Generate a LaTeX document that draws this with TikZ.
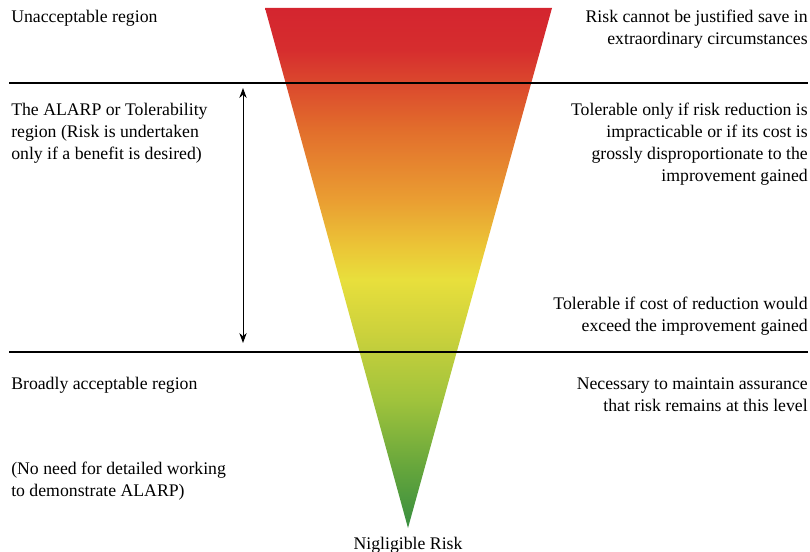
\documentclass[tikz,border=0pt]{standalone}
\usepackage{fontspec}
\setmainfont{Liberation Serif}
\usetikzlibrary{arrows.meta}

% colours of the risk band, from negligible (bottom) to unacceptable (top)
\definecolor{rgreen}{RGB}{56,142,64}
\definecolor{rgreenB}{RGB}{100,165,60}
\definecolor{rgreenC}{RGB}{160,195,60}
\definecolor{rlime}{RGB}{205,210,60}
\definecolor{ryellow}{RGB}{232,223,60}
\definecolor{ryelor}{RGB}{235,200,55}
\definecolor{rorange}{RGB}{234,158,50}
\definecolor{rdarkor}{RGB}{226,110,44}
\definecolor{rred}{RGB}{214,45,46}
\definecolor{rtop}{RGB}{212,37,47}

\pgfdeclareverticalshading{riskband}{100bp}{%
  color(0bp)=(rgreen); color(25bp)=(rgreen);
  color(30.6bp)=(rgreenB); color(37.3bp)=(rgreenC);
  color(44bp)=(rlime); color(48.9bp)=(ryellow);
  color(51.7bp)=(ryelor); color(56.5bp)=(rorange);
  color(63.3bp)=(rdarkor); color(71bp)=(rred);
  color(75bp)=(rtop); color(100bp)=(rtop)}

% multi-line labels are placed by the baseline of their last line
\tikzset{
  txt/.style={inner sep=0pt, font=\fontsize{13.3}{16.5}\selectfont},
  lefttxt/.style={txt, align=left, anchor=base west},
  righttxt/.style={txt, align=right, anchor=base east},
  divider/.style={line width=0.9pt, black},
  span/.style={line width=0.75pt, {Stealth[length=7.5pt,width=5.5pt]}-{Stealth[length=7.5pt,width=5.5pt]}}
}

\begin{document}
\begin{tikzpicture}[x=0.75pt,y=-0.75pt]
\useasboundingbox (0,0) rectangle (810,552);

% inverted risk triangle
\path[shading=riskband] (265,8) -- (552,8) -- (408,528) -- cycle;

% region dividers
\coordinate (d1a) at (9,83);   \coordinate (d1b) at (808,83);
\coordinate (d2a) at (9,352);  \coordinate (d2b) at (808,352);
\draw[divider] (d1a) -- (d1b);
\draw[divider] (d2a) -- (d2b);

% extent of the ALARP region
\coordinate (atop) at (243,88);
\coordinate (abot) at (243,343);
\draw[span] (atop) -- (abot);

% left-hand labels
\node[lefttxt] (unacc) at (11,23) {Unacceptable region};
\node[lefttxt] (alarp) at (11,160) {The ALARP or Tolerability\\region (Risk is undertaken\\only if a benefit is desired)};
\node[lefttxt] (broad) at (11,389) {Broadly acceptable region};
\node[lefttxt] (noneed) at (11,496) {(No need for detailed working\\to demonstrate ALARP)};

% right-hand labels
\node[righttxt] (justify) at (808,45) {Risk cannot be justified save in\\extraordinary circumstances};
\node[righttxt] (tolonly) at (808,182) {Tolerable only if risk reduction is\\impracticable or if its cost is\\grossly disproportionate to the\\improvement gained};
\node[righttxt] (tolcost) at (808,331) {Tolerable if cost of reduction would\\exceed the improvement gained};
\node[righttxt] (assure) at (808,411) {Necessary to maintain assurance\\that risk remains at this level};

% apex label
\node[txt, anchor=base] (neglig) at (408,549) {Nigligible Risk};
\end{tikzpicture}
\end{document}
